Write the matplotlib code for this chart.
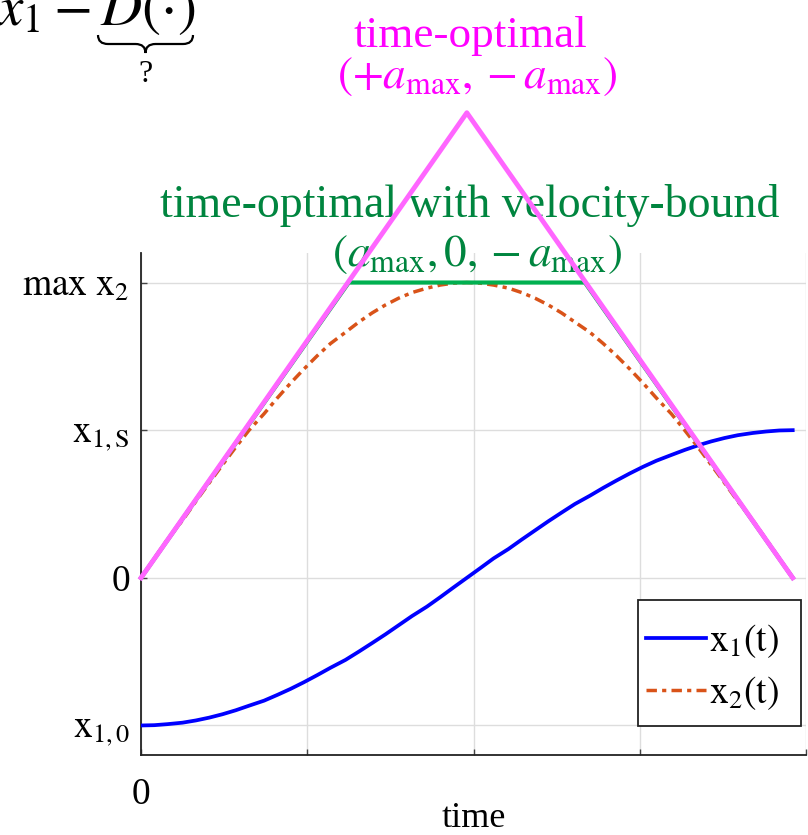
import matplotlib
matplotlib.use("Agg")
import matplotlib.pyplot as plt   # noqa: E402
from matplotlib.path import Path   # noqa: E402
from matplotlib.patches import PathPatch, Rectangle   # noqa: E402

plt.rcParams["font.family"] = ["Liberation Serif", "DejaVu Serif"]
plt.rcParams["mathtext.fontset"] = "stix"

# sampled trajectories (time, state)
t = [0.00, 0.08, 0.16, 0.25, 0.33, 0.41, 0.49, 0.57, 0.65, 0.74, 0.82, 0.90, 0.98,
     1.06, 1.14, 1.23, 1.31, 1.39, 1.47, 1.55, 1.63, 1.72, 1.80, 1.88, 1.96,
     2.04, 2.12, 2.21, 2.29, 2.37, 2.45, 2.53, 2.61, 2.70, 2.78, 2.86, 2.94,
     3.02, 3.10, 3.19, 3.27, 3.35, 3.43, 3.51, 3.59, 3.68, 3.76, 3.84, 3.92]
x1 = [-1.000, -0.998, -0.991, -0.981, -0.966, -0.947, -0.924, -0.897, -0.866, -0.832,
      -0.793, -0.752, -0.707, -0.659, -0.609, -0.556, -0.500, -0.442, -0.383, -0.321,
      -0.259, -0.195, -0.131, -0.065, 0.000, 0.065, 0.131, 0.195, 0.259, 0.321,
      0.383, 0.442, 0.500, 0.556, 0.609, 0.659, 0.707, 0.752, 0.793, 0.832,
      0.866, 0.897, 0.924, 0.947, 0.966, 0.981, 0.991, 0.998, 1.000]
x2 = [0.000, 0.131, 0.261, 0.390, 0.518, 0.643, 0.765, 0.885, 1.000, 1.111,
      1.218, 1.319, 1.414, 1.504, 1.587, 1.663, 1.732, 1.794, 1.848, 1.894,
      1.932, 1.962, 1.983, 1.996, 2.000, 1.996, 1.983, 1.962, 1.932, 1.894,
      1.848, 1.794, 1.732, 1.663, 1.587, 1.504, 1.414, 1.319, 1.218, 1.111,
      1.000, 0.885, 0.765, 0.643, 0.518, 0.390, 0.261, 0.131, 0.000]

# bang-bang profile (+a_max, -a_max)
t_bang = [0.00, 1.96, 3.92]
v_bang = [0.00, 3.15, 0.00]

# velocity-bounded profile (a_max, 0, -a_max)
t_vb = [0.00, 1.25, 2.67, 3.92]
v_vb = [0.00, 2.00, 2.00, 0.00]

xticks = [0, 1, 2, 3, 4]
xticklabels = ["0", "", "", "", ""]
yticks = [-1, 0, 1, 2]
yticklabels = [r"$\mathrm{x}_{\mathrm{1,0}}$", "0", r"$\mathrm{x}_{\mathrm{1,S}}$",
               r"$\mathrm{max\ x}_{\mathrm{2}}$"]

W, H = 808, 835
fig = plt.figure(figsize=(W / 100, H / 100), dpi=100)
ax = fig.add_axes([141 / W, 1 - 755 / H, 665 / W, 502 / H])

ax.plot(t, x1, color="#0000ff", lw=2.7, label=r"$\mathrm{x}_{1}\mathrm{(t)}$", zorder=3)
ax.plot(t, x2, color="#d95319", lw=2.5, ls=(0, (3.0, 1.5, 1.2, 1.5)),
        label=r"$\mathrm{x}_{2}\mathrm{(t)}$", zorder=3)
ax.plot(t_vb, v_vb, color="#00b050", lw=3.0, zorder=4, clip_on=False)
ax.plot(t_bang, v_bang, color="#ff66ff", lw=3.5, zorder=5, clip_on=False)

ax.set_xlim(0, 4)
ax.set_ylim(-1.2, 2.2)
ax.set_xticks(xticks)
ax.set_xticklabels(xticklabels)
ax.set_yticks(yticks)
ax.set_yticklabels(yticklabels)
ax.tick_params(direction="in", length=4, width=1, color="#444444", labelsize=27)
ax.tick_params(axis="x", pad=16)
ax.tick_params(axis="y", pad=8)
ax.set_xlabel("time", fontsize=26, labelpad=-7)
ax.grid(True, color="#dddddd", lw=1)
ax.set_axisbelow(True)
for side in ("top", "right"):
    ax.spines[side].set_visible(False)
for side in ("left", "bottom"):
    ax.spines[side].set_linewidth(1.3)
    ax.spines[side].set_color("#222222")

# legend box drawn separately so the right margin can be wider than the left
ax.add_patch(Rectangle((0.7474, 0.0578), 0.2451, 0.251, transform=ax.transAxes,
                       facecolor="white", edgecolor="#222222", lw=1.3, zorder=6,
                       clip_on=False))
leg = ax.legend(loc="upper left", bbox_to_anchor=(0.7594, 0.264), borderaxespad=0,
                fontsize=27, handlelength=1.6, handletextpad=0.08, labelspacing=0.38,
                frameon=False, borderpad=0)
leg.set_zorder(7)

# profile annotations
magenta = "#ff00ff"
green = "#00853f"
ax.text(1.98, 3.67, "time-optimal", color=magenta, fontsize=32.5, ha="center", va="center",
        clip_on=False)
ax.text(2.02, 3.39, r"$(+a_{\mathrm{max}}, -a_{\mathrm{max}})$", color=magenta,
        fontsize=32.5, ha="center", va="center", clip_on=False)
ax.text(1.98, 2.52, "time-optimal with velocity-bound", color=green, fontsize=33,
        ha="center", va="center", clip_on=False)
ax.text(2.02, 2.19, r"$(a_{\mathrm{max}}, 0, -a_{\mathrm{max}})$", color=green,
        fontsize=32.5, ha="center", va="center", clip_on=False)

# expression in the top-left corner, with an underbrace
fig.text(195 / W, 1 - 25 / H, r"$x_1 - D(\cdot)$", fontsize=41, ha="right", va="baseline")


def fx(px):
    return px / W


def fy(py):
    return 1 - py / H


def underbrace(x0, x1b, ytop, depth, q=10):
    xm = (x0 + x1b) / 2
    h = ytop + depth / 2
    pts = [(x0, ytop), (x0, h), (x0 + q, h), (xm - q, h), (xm, h), (xm, ytop + depth),
           (xm, h), (xm + q, h), (x1b - q, h), (x1b, h), (x1b, ytop)]
    codes = [Path.MOVETO, Path.CURVE3, Path.CURVE3, Path.LINETO, Path.CURVE3, Path.CURVE3,
             Path.CURVE3, Path.CURVE3, Path.LINETO, Path.CURVE3, Path.CURVE3]
    path = Path([(fx(a), fy(b)) for a, b in pts], codes)
    fig.add_artist(PathPatch(path, transform=fig.transFigure, fill=False, lw=1.6,
                             edgecolor="black"))


underbrace(98, 193, 35, 18)
fig.text(fx(145), fy(74), "?", fontsize=23, ha="center", va="center")

fig.savefig("out.png", dpi=100)
